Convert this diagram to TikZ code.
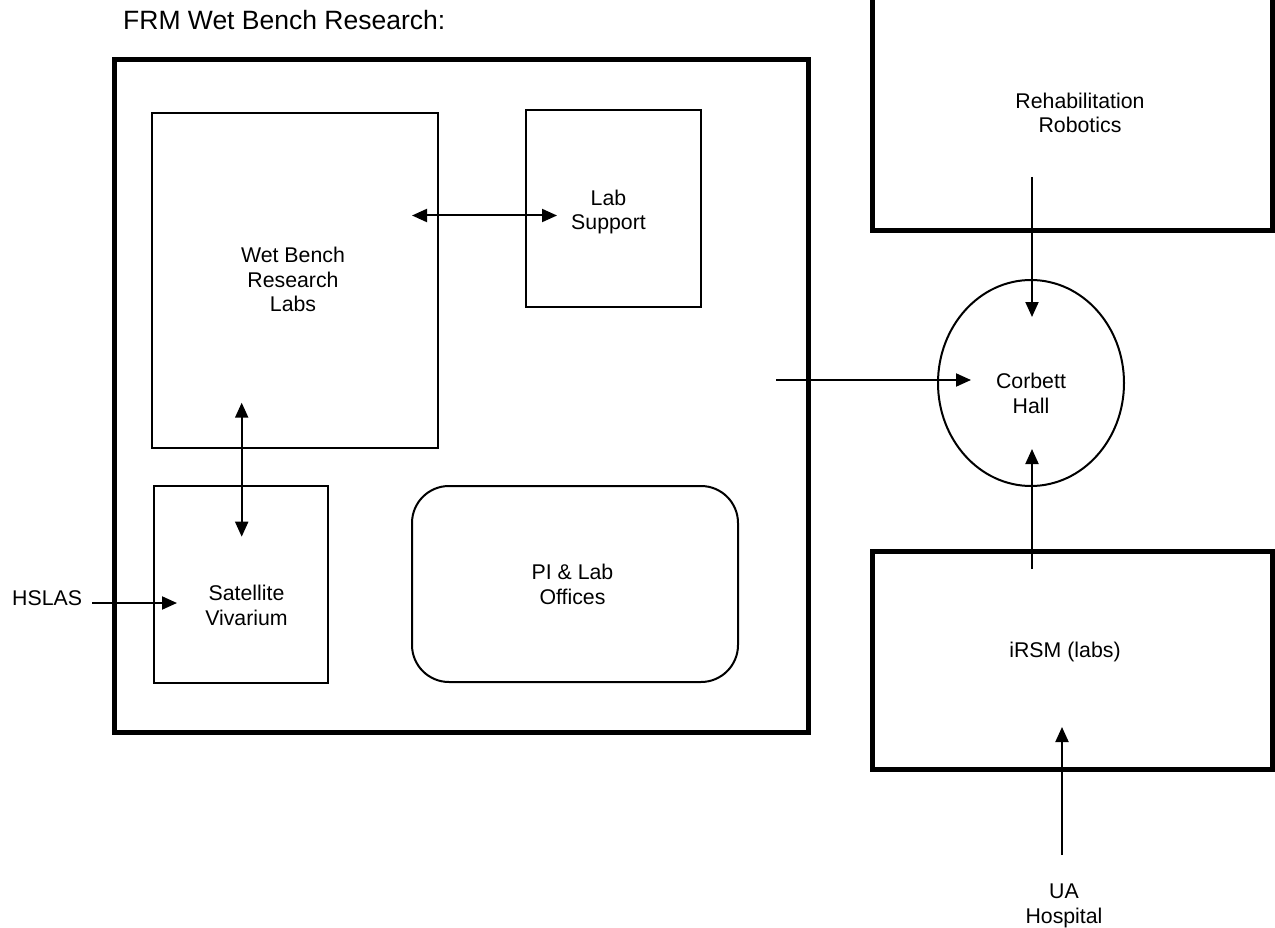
\documentclass[tikz,border=0pt]{standalone}
\usepackage{fontspec}
\setmainfont{Liberation Sans}
\usetikzlibrary{arrows.meta,shapes.geometric}
\begin{document}
\begin{tikzpicture}[x=1pt,y=-1pt,
  thinbox/.style={draw, line width=2pt, inner sep=0pt},
  thickbox/.style={draw, line width=5pt, inner sep=0pt},
  lbl/.style={font=\fontsize{21.3}{24.5}\selectfont, align=center, inner sep=0pt, anchor=base},
  conn/.style={line width=2pt, -{Triangle[length=15pt,width=13pt]}},
  dconn/.style={line width=2pt, {Triangle[length=15pt,width=13pt]}-{Triangle[length=15pt,width=13pt]}}]
\useasboundingbox (0,0) rectangle (1275,928);
\clip (0,0) rectangle (1275,928);

% title
\node[font=\fontsize{26.5}{30}\selectfont, inner sep=0pt, anchor=base west] (title) at (123,30) {FRM Wet Bench Research:};

% boxes
\node[thickbox, minimum width=693.5, minimum height=672] (frm) at (461.25,396) {};
\node[thinbox, minimum width=286, minimum height=334.5] (wet) at (295,280.25) {};
\node[thinbox, minimum width=174.5, minimum height=197] (sup) at (613.25,208.5) {};
\node[thinbox, minimum width=174, minimum height=197] (viv) at (241,584.5) {};
\node[thinbox, rounded corners=37pt, minimum width=326, minimum height=196] (pi) at (575,584) {};
\node[thickbox, minimum width=400, minimum height=251] (rehab) at (1072,105.5) {};
\node[draw, line width=2pt, ellipse, inner sep=0pt, minimum width=186, minimum height=206] (corbett) at (1031,383) {};
\node[thickbox, minimum width=400, minimum height=218] (irsm) at (1072,660) {};

% labels (base anchor = baseline of the last line)
\node[lbl] (wetT) at (293,312) {Wet Bench\\Research\\Labs};
\node[lbl] (supT) at (608.5,229.5) {Lab\\Support};
\node[lbl] (vivT) at (246.5,625) {Satellite\\Vivarium};
\node[lbl] (piT) at (572.5,604) {PI \& Lab\\Offices};
\node[lbl] (rehabT) at (1080,133) {Rehabilitation\\Robotics};
\node[lbl] (corbettT) at (1031,413) {Corbett\\Hall};
\node[lbl] (irsmT) at (1065,657) {iRSM (labs)};
\node[lbl] (uaT) at (1064,923) {UA\\Hospital};
\node[lbl, anchor=base west] (hslasT) at (12,605) {HSLAS};

% connector end points
\coordinate (a1) at (412,215.5);
\coordinate (a2) at (557,215.5);
\coordinate (b1) at (241.7,402.7);
\coordinate (b2) at (241.7,536.7);
\coordinate (c1) at (92,603);
\coordinate (c2) at (177,603);
\coordinate (d1) at (776,380);
\coordinate (d2) at (971,380);
\coordinate (e1) at (1032,177);
\coordinate (e2) at (1032,317);
\coordinate (f1) at (1032,569);
\coordinate (f2) at (1032,449);
\coordinate (g1) at (1062,855);
\coordinate (g2) at (1062,727);

% connectors
\draw[dconn] (a1) -- (a2);
\draw[dconn] (b1) -- (b2);
\draw[conn] (c1) -- (c2);
\draw[conn] (d1) -- (d2);
\draw[conn] (e1) -- (e2);
\draw[conn] (f1) -- (f2);
\draw[conn] (g1) -- (g2);
\end{tikzpicture}
\end{document}
